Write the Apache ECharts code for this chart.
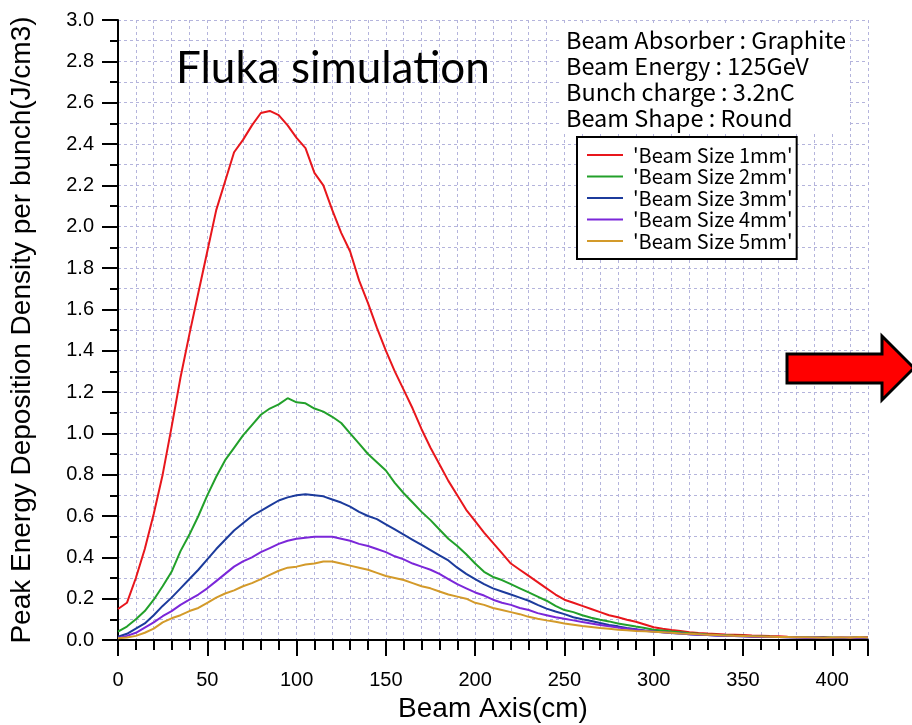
<!DOCTYPE html>
<html>
<head>
<meta charset="utf-8">
<script src="https://cdn.jsdelivr.net/npm/echarts@6/dist/echarts.min.js"></script>
<style>
html,body{margin:0;padding:0;background:#fff;}
#chart{width:912px;height:725px;}
</style>
</head>
<body>
<div id="chart"></div>
<script>
// Beam axis positions (cm)
const beamAxis = [0,5,10,15,20,25,30,35,40,45,50,55,60,65,70,75,80,85,90,95,100,
  105,110,115,120,125,130,135,140,145,150,155,160,165,170,175,180,185,190,195,200,
  205,210,215,220,225,230,235,240,245,250,255,260,265,270,275,280,285,290,295,300,
  305,310,315,320,325,330,335,340,345,350,355,360,365,370,375,380,385,390,395,400,
  405,410,415,420];

const size1mm = [0.15,0.18,0.30,0.44,0.61,0.80,1.03,1.27,1.48,1.68,1.88,2.08,2.22,2.36,2.42,2.49,2.55,2.56,2.54,2.49,2.43,
  2.38,2.26,2.20,2.08,1.97,1.88,1.74,1.63,1.51,1.40,1.30,1.21,1.12,1.02,0.93,0.85,0.77,0.70,0.63,0.575,
  0.52,0.47,0.42,0.37,0.34,0.31,0.28,0.25,0.22,0.195,0.18,0.165,0.15,0.135,0.12,0.11,0.098,0.088,0.075,0.062,
  0.054,0.048,0.043,0.038,0.034,0.031,0.029,0.027,0.026,0.024,0.022,0.021,0.019,0.018,0.016,0.015,0.013,0.012,0.013,0.011,
  0.010,0.012,0.011,0.013];

const size2mm = [0.04,0.065,0.10,0.14,0.195,0.26,0.33,0.43,0.51,0.60,0.70,0.79,0.87,0.93,0.99,1.04,1.09,1.12,1.14,1.17,1.15,
  1.145,1.12,1.105,1.08,1.05,1.00,0.95,0.90,0.86,0.82,0.76,0.71,0.665,0.62,0.58,0.535,0.49,0.455,0.415,0.37,
  0.33,0.305,0.29,0.27,0.25,0.23,0.21,0.19,0.165,0.145,0.135,0.12,0.108,0.098,0.09,0.08,0.073,0.065,0.058,0.05,
  0.046,0.041,0.037,0.033,0.030,0.027,0.025,0.023,0.021,0.020,0.018,0.017,0.016,0.015,0.014,0.013,0.013,0.012,0.011,0.012,
  0.010,0.011,0.012,0.010];

const size3mm = [0.016,0.03,0.055,0.08,0.12,0.165,0.205,0.25,0.295,0.34,0.39,0.44,0.485,0.53,0.565,0.60,0.625,0.65,0.675,0.69,0.70,
  0.705,0.70,0.695,0.68,0.665,0.645,0.62,0.60,0.585,0.56,0.535,0.51,0.485,0.46,0.435,0.41,0.385,0.35,0.32,0.295,
  0.27,0.25,0.235,0.22,0.205,0.19,0.17,0.152,0.138,0.125,0.11,0.10,0.092,0.082,0.073,0.066,0.058,0.052,0.046,0.042,
  0.038,0.034,0.031,0.028,0.026,0.024,0.022,0.020,0.019,0.018,0.017,0.016,0.015,0.014,0.013,0.013,0.012,0.011,0.012,0.010,
  0.011,0.010,0.012,0.011];

const size4mm = [0.01,0.02,0.035,0.06,0.085,0.115,0.14,0.17,0.195,0.22,0.25,0.285,0.32,0.355,0.38,0.40,0.425,0.445,0.465,0.48,0.49,
  0.495,0.50,0.50,0.50,0.49,0.48,0.465,0.455,0.44,0.425,0.405,0.39,0.37,0.355,0.34,0.32,0.295,0.27,0.25,0.23,
  0.215,0.195,0.18,0.17,0.155,0.145,0.13,0.12,0.11,0.103,0.095,0.087,0.08,0.073,0.066,0.06,0.055,0.05,0.045,0.04,
  0.037,0.034,0.031,0.028,0.026,0.024,0.022,0.020,0.019,0.018,0.016,0.015,0.014,0.014,0.013,0.012,0.011,0.012,0.010,0.011,
  0.013,0.010,0.011,0.012];

const size5mm = [0.008,0.012,0.02,0.035,0.055,0.085,0.105,0.12,0.14,0.155,0.18,0.205,0.225,0.24,0.26,0.275,0.295,0.315,0.335,0.35,0.355,
  0.365,0.37,0.38,0.38,0.37,0.36,0.35,0.34,0.325,0.31,0.30,0.29,0.275,0.26,0.25,0.235,0.22,0.21,0.20,0.18,
  0.17,0.155,0.145,0.135,0.125,0.112,0.103,0.095,0.088,0.08,0.074,0.068,0.063,0.058,0.054,0.05,0.047,0.044,0.042,0.04,
  0.038,0.035,0.032,0.030,0.028,0.026,0.024,0.022,0.020,0.019,0.018,0.017,0.016,0.015,0.014,0.013,0.013,0.012,0.011,0.012,
  0.013,0.011,0.014,0.012];

const seriesNames = ["'Beam Size 1mm'","'Beam Size 2mm'","'Beam Size 3mm'","'Beam Size 4mm'","'Beam Size 5mm'"];
const seriesValues = [size1mm, size2mm, size3mm, size4mm, size5mm];
const seriesColors = ['#e8161c','#22a02a','#1c3b9c','#7b27d9','#d39a2a'];

const infoText = 'Beam Absorber : Graphite\nBeam Energy : 125GeV\nBunch charge : 3.2nC\nBeam Shape : Round';

const chart = echarts.init(document.getElementById('chart'));
const gridStyle = {color:'#b4b4dc', width:1, type:[3,3]};
chart.setOption({
  animation:false,
  backgroundColor:'#fff',
  grid:{left:118, right:44, top:20, bottom:85, containLabel:false, outerBoundsMode:'none'},
  title:[
    {text:'Fluka simulation', left:171, top:42,
     textStyle:{fontFamily:'Lato', fontSize:44, fontWeight:'normal', color:'#000'}},
    {text:infoText, left:562, top:26, padding:[1,4,2,4], backgroundColor:'#fff',
     textStyle:{fontFamily:'Noto Sans CJK JP', fontSize:23.5, lineHeight:26, fontWeight:'normal', color:'#000'}}
  ],
  legend:{
    orient:'vertical', left:577, top:137, padding:[8,4,8,10],
    backgroundColor:'#fff', borderColor:'#000', borderWidth:2, borderRadius:0,
    itemWidth:36, itemHeight:2, itemGap:1.5, icon:'rect',
    textStyle:{fontFamily:'Noto Sans CJK JP', fontSize:20, lineHeight:20, color:'#000', padding:[0,0,0,5]},
    data:seriesNames
  },
  xAxis:{
    type:'value', min:0, max:420, interval:50,
    name:'Beam Axis(cm)', nameLocation:'middle', nameGap:55,
    nameTextStyle:{fontFamily:'Liberation Sans', fontSize:28, color:'#000'},
    axisLine:{onZero:false, lineStyle:{color:'#000', width:2}},
    axisTick:{show:true, length:16, lineStyle:{color:'#000', width:2}},
    minorTick:{show:true, splitNumber:5, length:10, lineStyle:{color:'#000', width:2}},
    axisLabel:{fontFamily:'Liberation Sans', fontSize:20, color:'#000', margin:30,
      formatter:function(v){return v>400?'':String(v);}},
    splitLine:{show:true, lineStyle:gridStyle},
    minorSplitLine:{show:true, lineStyle:gridStyle}
  },
  yAxis:{
    type:'value', min:0, max:3.0, interval:0.2,
    name:'Peak Energy Deposition Density per bunch(J/cm3)', nameLocation:'middle', nameGap:82,
    nameTextStyle:{fontFamily:'Liberation Sans', fontSize:28, color:'#000'},
    axisLine:{show:true, lineStyle:{color:'#000', width:2}},
    axisTick:{show:true, length:16, lineStyle:{color:'#000', width:2}},
    minorTick:{show:true, splitNumber:2, length:8, lineStyle:{color:'#000', width:2}},
    axisLabel:{fontFamily:'Liberation Sans', fontSize:20, color:'#000', margin:24,
      formatter:function(v){return v.toFixed(1);}},
    splitLine:{show:true, lineStyle:gridStyle},
    minorSplitLine:{show:true, lineStyle:gridStyle}
  },
  series:seriesNames.map(function(n,i){
    return {
      name:n, type:'line', showSymbol:false, symbol:'none',
      lineStyle:{color:seriesColors[i], width:2},
      itemStyle:{color:seriesColors[i]},
      data:beamAxis.map(function(x,j){return [x, seriesValues[i][j]];})
    };
  }),
  graphic:[{
    type:'polygon',
    shape:{points:[[787,354],[882,354],[882,336],[914,368],[882,400],[882,383],[787,383]]},
    style:{fill:'#ff0000', stroke:'#000', lineWidth:3},
    z:100
  }]
});
</script>
</body>
</html>
